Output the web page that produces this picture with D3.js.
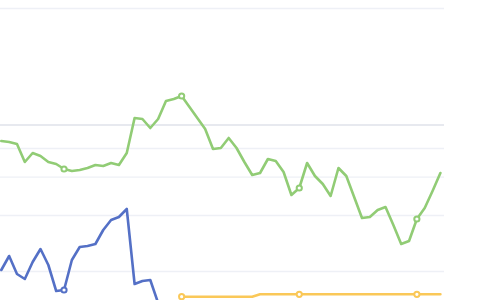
<!DOCTYPE html>
<html>
<head>
<meta charset="utf-8">
<script src="https://cdn.jsdelivr.net/npm/d3@7"></script>
<style>
  html, body { margin: 0; padding: 0; background: #fff; }
  svg { display: block; }
</style>
</head>
<body>
<div id="chart"></div>
<script>
// values, one per step
var greenValues = [79.5, 79, 78, 69, 73.5, 72, 69, 68, 65.5, 64.5,
                   65, 66, 67.5, 67, 68.5, 67.5, 73.5, 91, 90.5, 86,
                   90.5, 99.5, 100.5, 102, 96.5, 91, 85.5, 75.5, 76, 81,
                   76, 69, 62.5, 63.5, 70.5, 69.5, 64, 52.5, 56, 68.5,
                   62, 58, 52, 66, 62, 51.5, 41, 41.5, 45, 46.5,
                   37.5, 28, 29.5, 40.5, 46, 54.5, 63.5];
var blueValues = [15, 22, 13, 10.5, 19, 25.5, 17.5, 4.5, 5, 20,
                  26.5, 27, 28, 35, 40, 41.5, 45.5, 8, 9.5, 10, -1.5];
// yellow series starts at step 23
var yellowStart = 23;
var yellowValues = [1.65, 1.65, 1.65, 1.65, 1.65, 1.65, 1.65, 1.65, 1.65, 1.65,
                    2.85, 2.85, 2.85, 2.85, 2.85, 2.85, 2.85, 2.85, 2.85, 2.85,
                    2.85, 2.85, 2.85, 2.85, 2.85, 2.85, 2.85, 2.85, 2.85, 2.85,
                    2.85, 2.85, 2.85, 2.85];
var gridValues = [146, 76, 61.65, 42.5, 14.5];
var baseValue = 87.5;
var markerEvery = 15, markerOffset = 8;

var width = 480, height = 300;

var svg = d3.select("#chart").append("svg")
    .attr("width", width)
    .attr("height", height);

var x = d3.scaleLinear()
    .domain([0, greenValues.length - 1])
    .range([1.3, 440.4]);

var y = d3.scaleLinear()
    .domain([0, 150])
    .range([300, 0]);

var gridRight = 444;

// split lines
svg.append("g")
    .attr("class", "grid")
    .attr("transform", "translate(" + gridRight + ",0)")
    .call(d3.axisLeft(y).tickValues(gridValues).tickSize(gridRight).tickFormat(""))
    .call(g => g.select(".domain").remove())
    .call(g => g.selectAll("line").attr("stroke", "#eef0f6").attr("stroke-width", 1.3));

svg.append("line")
    .attr("x1", 0).attr("x2", gridRight)
    .attr("y1", y(baseValue)).attr("y2", y(baseValue))
    .attr("stroke", "#dfe2ea")
    .attr("stroke-width", 1.3);

var series = [
    {name: "blue", color: "#5470c6", start: 0, values: blueValues},
    {name: "green", color: "#91cc75", start: 0, values: greenValues},
    {name: "yellow", color: "#fac858", start: yellowStart, values: yellowValues}
];

var line = d3.line()
    .x(d => x(d.i))
    .y(d => y(d.v));

series.forEach(function(s) {
    var pts = s.values.map((v, k) => ({i: s.start + k, v: v}));

    svg.append("path")
        .datum(pts)
        .attr("fill", "none")
        .attr("stroke", s.color)
        .attr("stroke-width", 2.6)
        .attr("stroke-linejoin", "round")
        .attr("stroke-linecap", "round")
        .attr("d", line);

    svg.selectAll(".dot-" + s.name)
        .data(pts.filter(d => (d.i - markerOffset) % markerEvery === 0))
      .enter().append("circle")
        .attr("class", "dot-" + s.name)
        .attr("cx", d => x(d.i))
        .attr("cy", d => y(d.v))
        .attr("r", 2.6)
        .attr("fill", "#fff")
        .attr("stroke", s.color)
        .attr("stroke-width", 2);
});
</script>
</body>
</html>
